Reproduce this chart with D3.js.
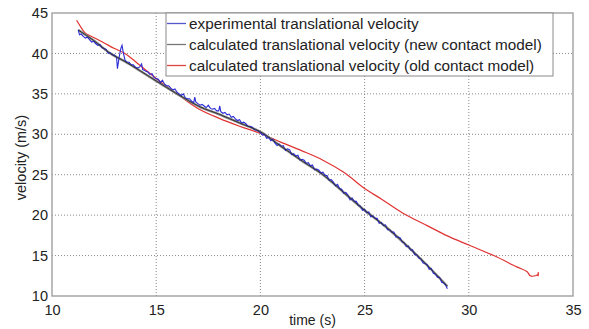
<!DOCTYPE html>
<html>
<head>
<meta charset="utf-8">
<script src="https://cdn.jsdelivr.net/npm/d3@7"></script>
<style>
  body { margin: 0; background: #fff; }
  text { font-family: "Liberation Sans", Arial, sans-serif; fill: #222; }
</style>
</head>
<body>
<div id="chart"></div>
<script>
const xTicks = [10, 15, 20, 25, 30, 35]
const yTicks = [10, 15, 20, 25, 30, 35, 40, 45]

const legendLabels = [
    "experimental translational velocity",
    "calculated translational velocity (new contact model)",
    "calculated translational velocity (old contact model)"
]
const lineColors = ["#2a2ad8", "#333333", "#e03232"]
const legendColors = ["#5555cc", "#777777", "#dd4444"]

// calculated, new contact model
const newTime = [11.26, 12.0, 12.8, 13.5, 14.2, 15.0, 16.0, 17.1, 18.0, 19.0, 20.0,
                 21.0, 22.0, 23.0, 24.0, 25.0, 26.0, 27.0, 28.0, 28.97]
const newVel  = [42.9, 41.6, 40.0, 39.0, 37.9, 36.6, 35.0, 33.4, 32.5, 31.4, 30.3,
                 28.5, 26.7, 25.0, 22.8, 20.6, 18.6, 16.3, 13.8, 11.2]

// calculated, old contact model
const oldTime = [11.18, 11.4, 11.6, 11.9, 12.5, 13.0, 13.5, 14.0, 15.0, 16.0, 17.0, 18.0,
                 19.0, 20.0, 21.0, 22.0, 23.0, 24.0, 25.0, 25.8, 26.8, 28.0, 29.0, 30.0,
                 31.2, 32.3, 32.8, 32.95, 33.2, 33.33, 33.33, 33.33]
const oldVel  = [44.1, 43.2, 42.5, 42.1, 41.3, 40.6, 40.0, 39.0, 36.9, 35.0, 33.2, 32.0,
                 31.0, 30.1, 29.0, 27.95, 26.8, 25.3, 23.3, 22.0, 20.3, 18.7, 17.4, 16.3,
                 15.0, 13.6, 13.0, 12.5, 12.5, 12.7, 12.95, 12.45]

// experimental
const expTime = [11.26, 11.32, 11.4, 11.5, 11.6, 11.7, 11.8, 11.9, 12.0, 12.1, 12.2, 12.3, 12.4,
    12.5, 12.6, 12.7, 12.8, 12.9, 13.0, 13.1, 13.14, 13.22, 13.3, 13.36, 13.42, 13.5, 13.6, 13.7,
    13.8, 13.9, 14.0, 14.1, 14.2, 14.3, 14.35, 14.45, 14.5, 14.6, 14.7, 14.8, 14.9, 15.0, 15.1,
    15.2, 15.3, 15.4, 15.5, 15.6, 15.7, 15.8, 15.9, 16.0, 16.1, 16.2, 16.3, 16.4, 16.5, 16.6,
    16.7, 16.8, 16.85, 16.9, 17.0, 17.1, 17.2, 17.3, 17.4, 17.5, 17.6, 17.7, 17.8, 17.9, 18.0,
    18.05, 18.1, 18.2, 18.3, 18.4, 18.5, 18.6, 18.7, 18.8, 18.9, 19.0, 19.1, 19.2, 19.3, 19.4,
    19.5, 19.6, 19.7, 19.8, 19.9, 20.0, 20.1, 20.2, 20.3, 20.4, 20.5, 20.6, 20.7, 20.8, 20.9,
    21.0, 21.1, 21.2, 21.3, 21.4, 21.5, 21.6, 21.7, 21.8, 21.9, 22.0, 22.1, 22.2, 22.3, 22.4,
    22.5, 22.6, 22.7, 22.8, 22.9, 23.0, 23.1, 23.2, 23.3, 23.4, 23.5, 23.6, 23.7, 23.8, 23.9,
    24.0, 24.1, 24.2, 24.3, 24.4, 24.5, 24.6, 24.7, 24.8, 24.9, 25.0, 25.1, 25.2, 25.3, 25.4,
    25.5, 25.6, 25.7, 25.8, 25.9, 26.0, 26.1, 26.2, 26.3, 26.4, 26.5, 26.6, 26.7, 26.8, 26.9,
    27.0, 27.1, 27.2, 27.3, 27.4, 27.5, 27.6, 27.7, 27.8, 27.9, 28.0, 28.1, 28.2, 28.3, 28.4,
    28.5, 28.6, 28.7, 28.8, 28.9, 28.97]
const expVel = [42.9, 42.3, 42.4, 42.1, 41.9, 42.0, 41.7, 41.4, 41.5, 41.2, 41.0, 41.1, 40.7,
    40.6, 40.5, 40.0, 40.1, 39.8, 39.8, 39.5, 38.1, 39.5, 40.6, 41.0, 40.1, 39.2, 38.9, 38.9,
    38.6, 38.6, 38.3, 38.2, 38.3, 38.7, 38.0, 37.9, 37.8, 37.7, 37.4, 37.5, 37.0, 36.9, 36.8,
    36.4, 36.7, 36.2, 36.0, 36.0, 35.7, 35.5, 35.6, 35.2, 35.0, 34.8, 35.0, 34.5, 34.4, 34.4,
    34.1, 33.9, 34.6, 34.0, 33.8, 33.6, 33.7, 33.5, 33.3, 33.6, 33.2, 33.1, 33.2, 32.9, 32.9,
    33.5, 32.8, 32.6, 32.7, 32.4, 32.5, 32.1, 32.2, 31.9, 31.7, 31.8, 31.4, 31.5, 31.3, 31.0,
    31.0, 30.9, 30.6, 30.5, 30.4, 30.2, 29.9, 30.0, 29.5, 29.6, 29.2, 29.4, 28.9, 28.6, 28.8,
    28.5, 28.6, 28.0, 28.2, 28.1, 27.5, 27.6, 27.3, 27.4, 26.8, 26.9, 26.8, 26.4, 26.5, 26.1,
    26.2, 25.6, 25.7, 25.6, 25.2, 25.3, 24.9, 24.9, 24.3, 24.4, 24.1, 23.6, 23.8, 23.3, 23.2,
    22.7, 22.8, 22.5, 21.9, 22.1, 21.7, 21.7, 21.2, 21.1, 20.6, 20.7, 20.3, 20.4, 19.8, 19.9,
    19.6, 19.6, 19.0, 19.1, 18.7, 18.8, 18.2, 18.2, 17.9, 17.9, 17.3, 17.3, 17.2, 16.7, 16.6,
    16.1, 16.2, 15.7, 15.7, 15.1, 15.1, 14.7, 14.6, 14.1, 14.0, 13.9, 13.3, 13.4, 12.8, 12.7,
    12.3, 12.3, 11.7, 11.6, 11.3, 10.9]

const width = 589
const height = 329
const margin = { top: 13, right: 16, bottom: 33, left: 52 }

const svg = d3.select("#chart")
    .append("svg")
    .attr("width", width)
    .attr("height", height)

const x = d3.scaleLinear()
    .domain([10, 35])
    .range([margin.left, width - margin.right])

const y = d3.scaleLinear()
    .domain([10, 45])
    .range([height - margin.bottom, margin.top])

// dotted grid
svg.append("g")
    .selectAll("line")
    .data(xTicks.slice(1, -1))
    .enter()
    .append("line")
    .attr("x1", d => x(d)).attr("x2", d => x(d))
    .attr("y1", y(10)).attr("y2", y(45))
    .attr("stroke", "#888")
    .attr("stroke-dasharray", "1,2")

svg.append("g")
    .selectAll("line")
    .data(yTicks.slice(1, -1))
    .enter()
    .append("line")
    .attr("x1", x(10)).attr("x2", x(35))
    .attr("y1", d => y(d)).attr("y2", d => y(d))
    .attr("stroke", "#888")
    .attr("stroke-dasharray", "1,2")

// axes (labels only), box drawn separately
const xAxis = svg.append("g")
    .attr("transform", `translate(0,${y(10)})`)
    .call(d3.axisBottom(x).tickValues(xTicks).tickSize(0).tickPadding(9))
xAxis.select(".domain").remove()
xAxis.selectAll("text").style("font-size", "14.5px").attr("fill", "#222")

const yAxis = svg.append("g")
    .attr("transform", `translate(${x(10)},0)`)
    .call(d3.axisLeft(y).tickValues(yTicks).tickSize(0).tickPadding(4))
yAxis.select(".domain").remove()
yAxis.selectAll("text").style("font-size", "14.5px").attr("fill", "#222")

svg.append("text")
    .attr("x", (x(10) + x(35)) / 2)
    .attr("y", 325)
    .attr("text-anchor", "middle")
    .style("font-size", "14px")
    .text("time (s)")

svg.append("text")
    .attr("transform", `translate(26,${(y(10) + y(45)) / 2 + 3}) rotate(-90)`)
    .attr("text-anchor", "middle")
    .style("font-size", "14.5px")
    .text("velocity (m/s)")

// curves
const line = d3.line()
    .x(d => x(d[0]))
    .y(d => y(d[1]))

const smooth = d3.line()
    .x(d => x(d[0]))
    .y(d => y(d[1]))
    .curve(d3.curveCatmullRom)

const series = [
    d3.zip(expTime, expVel),
    d3.zip(newTime, newVel),
    d3.zip(oldTime, oldVel)
]

svg.append("path")
    .datum(series[2])
    .attr("fill", "none")
    .attr("stroke", lineColors[2])
    .attr("stroke-width", 1.2)
    .attr("d", smooth)

svg.append("path")
    .datum(series[1])
    .attr("fill", "none")
    .attr("stroke", "#888")
    .attr("stroke-width", 2.4)
    .attr("d", smooth)

svg.append("path")
    .datum(series[0])
    .attr("fill", "none")
    .attr("stroke", lineColors[0])
    .attr("stroke-width", 1.1)
    .attr("d", line)

svg.append("path")
    .datum(series[1])
    .attr("fill", "none")
    .attr("stroke", lineColors[1])
    .attr("stroke-width", 1)
    .attr("d", smooth)

// plot box
svg.append("rect")
    .attr("x", x(10)).attr("y", y(45))
    .attr("width", x(35) - x(10))
    .attr("height", y(10) - y(45))
    .attr("fill", "none")
    .attr("stroke", "#a0a0a0")
    .attr("stroke-width", 1.4)

// legend
const legend = svg.append("g")
legend.append("rect")
    .attr("x", 166).attr("y", y(45))
    .attr("width", 387).attr("height", 63)
    .attr("fill", "#fff")
    .attr("stroke", "#8a8a8a")

const keys = legend.selectAll("g.key")
    .data(legendLabels)
    .enter()
    .append("g")
    .attr("class", "key")
    .attr("transform", (d, i) => `translate(0,${23.5 + i * 21})`)

keys.append("line")
    .attr("x1", 167).attr("x2", 186)
    .attr("stroke", (d, i) => legendColors[i])
    .attr("stroke-width", 1.3)

keys.append("text")
    .attr("x", 189)
    .attr("y", 5.5)
    .style("font-size", "15.3px")
    .text(d => d)
</script>
</body>
</html>
